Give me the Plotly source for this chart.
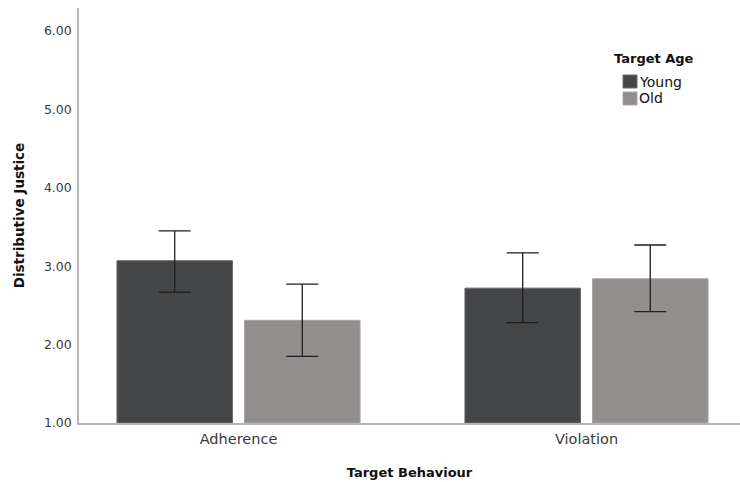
import plotly.graph_objects as go

# Group means and 95% CI bounds of Distributive Justice
behaviours = ["Adherence", "Violation"]
young_mean = [3.07, 2.72]
young_ci_low = [2.67, 2.28]
young_ci_high = [3.45, 3.17]
old_mean = [2.31, 2.84]
old_ci_low = [1.85, 2.42]
old_ci_high = [2.77, 3.27]

y_ticks = [1, 2, 3, 4, 5, 6]
groups = ["Young", "Old"]

FONT = "DejaVu Sans"
TEXT = "#3a3a3a"
TITLE = "#111111"
AXIS = "#b5b5b5"
COLORS = {"Young": "#454648", "Old": "#918e8d"}
EDGES = {"Young": "#6a6a6c", "Old": "#a8a6a5"}

W, H = 740, 482
ML, MR, MT, MB = 79, 0, 8, 59
PW, PH = W - ML - MR, H - MT - MB


def px_x(p):
    return (p - ML) / PW


def px_y(p):
    return (H - MB - p) / PH


def err(mean, lo, hi):
    return dict(
        type="data",
        symmetric=False,
        array=[h - m for h, m in zip(hi, mean)],
        arrayminus=[m - l for m, l in zip(mean, lo)],
        color="#1e1e1e",
        thickness=1.3,
        width=16,
    )


fig = go.Figure()
for name, mean, lo, hi in [
    ("Young", young_mean, young_ci_low, young_ci_high),
    ("Old", old_mean, old_ci_low, old_ci_high),
]:
    fig.add_trace(go.Bar(
        name=name, x=behaviours, y=[m - 1 for m in mean], base=1,
        marker=dict(color=COLORS[name], line=dict(color=EDGES[name], width=1)),
        error_y=err(mean, lo, hi),
        showlegend=False,
    ))

# Legend block: title plus swatch/label rows
fig.add_annotation(
    text="<b>Target Age</b>", xref="paper", yref="paper",
    x=px_x(612), y=px_y(58), xanchor="left", yanchor="middle",
    showarrow=False, font=dict(size=13, color=TITLE),
)
for i, name in enumerate(groups):
    top = 75 + 17 * i
    fig.add_shape(
        type="rect", xref="paper", yref="paper",
        x0=px_x(623), x1=px_x(637), y0=px_y(top + 13), y1=px_y(top),
        fillcolor=COLORS[name], line=dict(color=EDGES[name], width=1),
    )
    fig.add_annotation(
        text=name, xref="paper", yref="paper",
        x=px_x(637), y=px_y(top + 6.5), xanchor="left", yanchor="middle",
        showarrow=False, font=dict(size=14, color=TITLE),
    )

fig.update_layout(
    width=W, height=H,
    margin=dict(l=ML, r=MR, t=MT, b=MB),
    paper_bgcolor="white", plot_bgcolor="white",
    barmode="group", bargap=0.267, bargroupgap=0.094,
    font=dict(family=FONT, color=TEXT),
    xaxis=dict(
        range=[-0.4583, 1.4411],
        showline=True, linecolor=AXIS, linewidth=1.5,
        showgrid=False, zeroline=False, ticks="",
        tickfont=dict(size=14.5, color=TEXT),
        ticklabelstandoff=2,
        title=dict(text="<b>Target Behaviour</b>", font=dict(size=13, color=TITLE), standoff=22),
    ),
    yaxis=dict(
        range=[1, 6.293],
        tickvals=y_ticks, ticktext=[f"{v:.2f}" for v in y_ticks],
        showline=True, linecolor=AXIS, linewidth=1.5,
        showgrid=False, zeroline=False, ticks="",
        tickfont=dict(size=12.5, color=TEXT),
        ticklabelstandoff=3,
        title=dict(text="<b>Distributive Justice</b>", font=dict(size=13.5, color=TITLE), standoff=16),
    ),
)

fig.write_html("out.html")
